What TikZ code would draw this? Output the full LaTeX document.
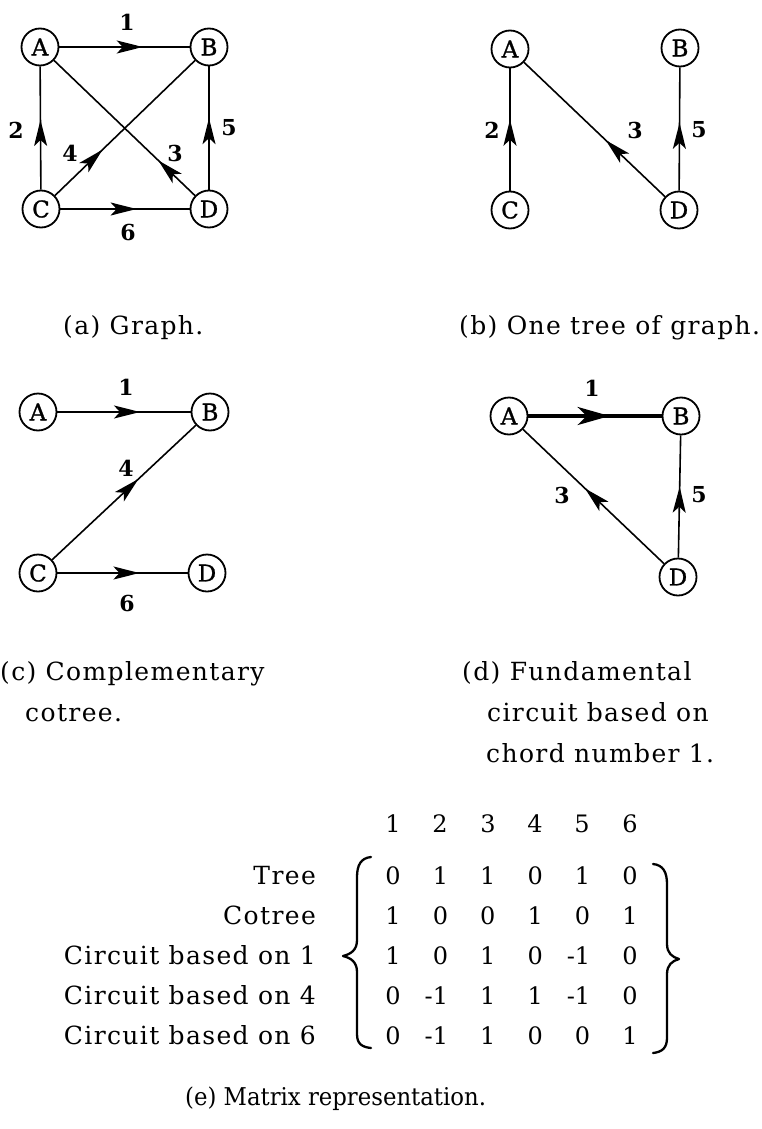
\documentclass[tikz,border=0pt]{standalone}
\usepackage{fontspec}
\setmainfont{DejaVu Serif}
\newfontfamily\spacedfont{DejaVu Serif}[LetterSpace=5.5]
\newfontfamily\narrowfont{DejaVu Serif}[FakeStretch=0.93]
\newfontfamily\vertexfont{DejaVu Serif}[FakeBold=1.2]
\usetikzlibrary{arrows.meta,decorations.markings}

\tikzset{
  vtx/.style={circle, draw, line width=1.8pt, minimum size=37pt, inner sep=0pt,
              font=\fontsize{23}{25}\vertexfont},
  elab/.style={font=\fontsize{22}{24}\selectfont\bfseries, inner sep=0pt},
  gline/.style={line width=1.6pt},
  heavy/.style={line width=3.8pt},
  midarrow/.style={postaction={decorate}, decoration={markings,
      mark=at position #1 with {\arrow{Stealth[length=26pt,width=13pt,inset=6pt]}}}},
  bigmidarrow/.style={postaction={decorate}, decoration={markings,
      mark=at position #1 with {\arrow{Stealth[length=32pt,width=18pt,inset=9pt]}}}},
  caption/.style={font=\fontsize{25}{28}\spacedfont, inner sep=0pt, anchor=base west},
  plaincaption/.style={font=\fontsize{24.5}{28}\narrowfont, inner sep=0pt, anchor=base west},
  rowlab/.style={font=\fontsize{25}{28}\spacedfont, inner sep=0pt, anchor=base east},
  mnum/.style={font=\fontsize{24}{28}\selectfont, inner sep=0pt, anchor=base},
  bracket/.style={line width=2.3pt, line cap=round, line join=round}
}

\begin{document}
\begin{tikzpicture}[x=1pt, y=-1pt]
\useasboundingbox (0,0) rectangle (761,1129);

% (a) the full graph
\node[vtx] (aA) at (40,47) {A};
\node[vtx] (aB) at (209,47) {B};
\node[vtx] (aC) at (41,209) {C};
\node[vtx] (aD) at (209,209) {D};
\draw[gline, midarrow=0.64]  (aA) -- (aB);
\draw[gline, midarrow=0.565] (aC) -- (aA);
\draw[gline, midarrow=0.34]  (aC) -- (aB);
\draw[gline, midarrow=0.26]  (aD) -- (aA);
\draw[gline, midarrow=0.58]  (aD) -- (aB);
\draw[gline, midarrow=0.59]  (aC) -- (aD);
\node[elab] (a1) at (127,22)  {1};
\node[elab] (a2) at (16,130)  {2};
\node[elab] (a4) at (70,153)  {4};
\node[elab] (a3) at (175,153) {3};
\node[elab] (a5) at (229,128) {5};
\node[elab] (a6) at (128,232) {6};
\node[caption] (capa) at (63,334) {(a) Graph.};

% (b) one tree
\node[vtx] (bA) at (510,49) {A};
\node[vtx] (bB) at (680,48) {B};
\node[vtx] (bC) at (510,210) {C};
\node[vtx] (bD) at (679,210) {D};
\draw[gline, midarrow=0.58] (bC) -- (bA);
\draw[gline, midarrow=0.42] (bD) -- (bA);
\draw[gline, midarrow=0.55] (bD) -- (bB);
\node[elab] (b2) at (492,130) {2};
\node[elab] (b3) at (635,130) {3};
\node[elab] (b5) at (699,130) {5};
\node[caption] (capb) at (459,334) {(b) One tree of graph.};

% (c) cotree
\node[vtx] (cA) at (38,412) {A};
\node[vtx] (cB) at (210,412) {B};
\node[vtx] (cC) at (38,573) {C};
\node[vtx] (cD) at (207,573) {D};
\draw[gline, midarrow=0.62] (cA) -- (cB);
\draw[gline, midarrow=0.60] (cC) -- (cB);
\draw[gline, midarrow=0.63] (cC) -- (cD);
\node[elab] (c1) at (126,387) {1};
\node[elab] (c4) at (126,468) {4};
\node[elab] (c6) at (127,603) {6};
\node[caption] (capc1) at (0,680) {(c) Complementary};
\node[caption] (capc2) at (25,721) {cotree.};

% (d) fundamental circuit of chord 1
\node[vtx] (dA) at (509,416) {A};
\node[vtx] (dB) at (681,416) {B};
\node[vtx] (dD) at (678,577) {D};
\draw[heavy, bigmidarrow=0.61] (dA) -- (dB);
\draw[gline, midarrow=0.56] (dD) -- (dA);
\draw[gline, midarrow=0.58] (dD) -- (dB);
\node[elab] (d1) at (592,388) {1};
\node[elab] (d3) at (562,495) {3};
\node[elab] (d5) at (699,495) {5};
\node[caption] (capd1) at (462,680) {(d) Fundamental};
\node[caption] (capd2) at (487,721) {circuit based on};
\node[caption] (capd3) at (486,762) {chord number 1.};

% (e) matrix
\foreach \x [count=\c] in {393,440,488,535,582,630}
  \node[mnum] (h\c) at (\x,832) {\c};
\foreach \lab [count=\r] in {Tree,Cotree,Circuit based on 1,Circuit based on 4,Circuit based on 6}
  \node[rowlab] (l\r) at (316,{884+40*(\r-1)}) {\lab};
\foreach \row [count=\r] in {{0,1,1,0,1,0},{1,0,0,1,0,1},{1,0,1,0,-1,0},{0,-1,1,1,-1,0},{0,-1,1,0,0,1}}
  \foreach \v [count=\c] in \row
    \node[mnum] (m\r\c) at ({393+47.4*(\c-1)},{884+40*(\r-1)}) {\ifnum\v<0 \llap{-}1\else\v\fi};

\draw[bracket] (371,857) .. controls (361,858) and (357,865) .. (357,877)
  -- (357,940) .. controls (357,950) and (351,954) .. (343,956)
  .. controls (351,958) and (357,962) .. (357,972)
  -- (357,1034) .. controls (357,1044) and (362,1047) .. (371,1048);
\draw[bracket] (653,864) .. controls (663,865) and (667,872) .. (667,884)
  -- (667,944) .. controls (667,953) and (672,957) .. (679,959)
  .. controls (672,961) and (667,965) .. (667,974)
  -- (667,1038) .. controls (667,1048) and (662,1052) .. (653,1053);

\node[plaincaption] (cape) at (185,1105) {(e) Matrix representation.};
\end{tikzpicture}
\end{document}
